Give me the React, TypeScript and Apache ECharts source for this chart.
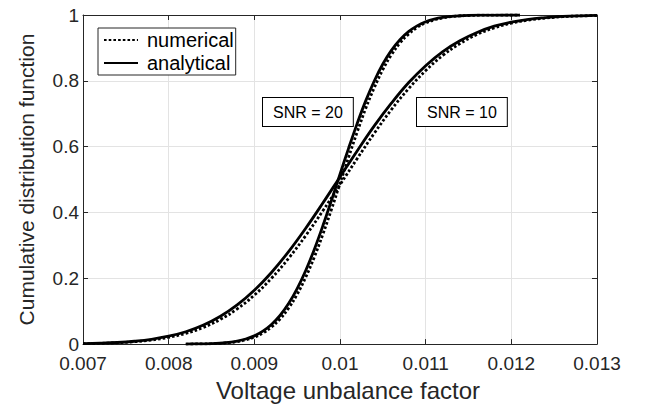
import React, { useEffect, useRef } from "react";
import * as echarts from "echarts";

// SNR = 10 curves (x in voltage unbalance factor, y in CDF)
const snr10X = [
  0.007, 0.0072, 0.0074, 0.0076, 0.0078, 0.008, 0.0082, 0.0084, 0.0086, 0.0088,
  0.009, 0.0092, 0.0094, 0.0096, 0.0098, 0.01, 0.0102, 0.0104, 0.0106, 0.0108,
  0.011, 0.0112, 0.0114, 0.0116, 0.0118, 0.012, 0.0122, 0.0124, 0.0126, 0.0128, 0.013,
];
const snr10Analytical = [
  0.0014, 0.0027, 0.0049, 0.0087, 0.0146, 0.0239, 0.0375, 0.0571, 0.0838, 0.119,
  0.1635, 0.2177, 0.281, 0.352, 0.4286, 0.508, 0.587, 0.663, 0.732, 0.794,
  0.846, 0.889, 0.922, 0.947, 0.966, 0.978, 0.987, 0.992, 0.9956, 0.9976, 0.9987,
];
const snr10Numerical = [
  0.0012, 0.0022, 0.0041, 0.0072, 0.0124, 0.0204, 0.0325, 0.0501, 0.0745, 0.1069,
  0.1487, 0.2, 0.2606, 0.3297, 0.405, 0.484, 0.5635, 0.6405, 0.7125, 0.776,
  0.831, 0.877, 0.913, 0.941, 0.961, 0.975, 0.9845, 0.9905, 0.9948, 0.9971, 0.9984,
];

// SNR = 20 curves
const snr20X = [
  0.0082, 0.0083, 0.0084, 0.0085, 0.0086, 0.0087, 0.0088, 0.0089, 0.009, 0.0091,
  0.0092, 0.0093, 0.0094, 0.0095, 0.0096, 0.0097, 0.0098, 0.0099, 0.01, 0.0101,
  0.0102, 0.0103, 0.0104, 0.0105, 0.0106, 0.0107, 0.0108, 0.0109, 0.011, 0.0111,
  0.0112, 0.0113, 0.0114, 0.0115, 0.0116, 0.0118, 0.0121,
];
const snr20Analytical = [
  0.0002, 0.0004, 0.0008, 0.0015, 0.0029, 0.0052, 0.0091, 0.0154, 0.025, 0.0392,
  0.0594, 0.0869, 0.123, 0.1685, 0.2236, 0.2877, 0.3594, 0.4364, 0.516, 0.5948,
  0.67, 0.739, 0.7995, 0.851, 0.8925, 0.925, 0.9495, 0.967, 0.9793, 0.9875,
  0.9927, 0.9959, 0.9977, 0.9988, 0.9994, 0.9999, 1.0,
];
const snr20Numerical = [
  0.0001, 0.0003, 0.0006, 0.0012, 0.0023, 0.0043, 0.0075, 0.0129, 0.0212, 0.0336,
  0.0516, 0.0764, 0.1093, 0.1515, 0.2033, 0.2643, 0.3336, 0.409, 0.488, 0.5675,
  0.644, 0.716, 0.779, 0.834, 0.879, 0.915, 0.942, 0.962, 0.976, 0.985,
  0.991, 0.995, 0.9972, 0.9985, 0.9992, 0.9998, 1.0,
];

const xMin = 0.007;
const xMax = 0.013;
const xStep = 0.001;
const yMin = 0;
const yMax = 1;
const yStep = 0.2;

const legendNames = ["numerical", "analytical"];
const annotations = ["SNR = 20", "SNR = 10"];
const xTitle = "Voltage unbalance factor";
const yTitle = "Cumulative distribution function";

const FONT = '"Liberation Sans", Arial, Helvetica, sans-serif';
const AXIS_COLOR = "#262626";

function zip(xs: number[], ys: number[]) {
  return xs.map((x, i) => [x, ys[i]]);
}

export default function App() {
  const ref = useRef<HTMLDivElement | null>(null);

  useEffect(() => {
    if (!ref.current) return;
    const chart = echarts.init(ref.current, undefined, { renderer: "svg" });

    const solid = { color: "#000", width: 2.8, type: "solid" as const };
    const dotted = { color: "#000", width: 2.8, type: [2.6, 2.1] as any };

    const common = {
      type: "line" as const,
      showSymbol: false,
      symbol: "none",
      smooth: 0.4,
      color: "#000",
      itemStyle: { color: "#000" },
      xAxisIndex: 0,
      yAxisIndex: 0,
    };

    chart.setOption({
      animation: false,
      backgroundColor: "#fff",
      textStyle: { fontFamily: FONT },
      grid: { left: 83, right: 49, top: 15, bottom: 58, containLabel: false },
      legend: {
        left: 98,
        top: 28,
        orient: "vertical",
        data: legendNames,
        itemWidth: 34,
        itemHeight: 20,
        itemGap: 3,
        padding: [2, 2, 2, 5],
        borderColor: AXIS_COLOR,
        borderWidth: 1,
        backgroundColor: "#fff",
        selectedMode: false,
        itemStyle: { color: "rgba(0,0,0,0)", borderWidth: 0, opacity: 0 },
        textStyle: { fontSize: 20, color: "#000", fontFamily: FONT, padding: [0, 0, 0, 4] },
      },
      xAxis: [
        {
          type: "value",
          min: xMin,
          max: xMax,
          interval: xStep,
          name: xTitle,
          nameLocation: "middle",
          nameGap: 31,
          nameTextStyle: { fontSize: 24, color: AXIS_COLOR, fontFamily: FONT, padding: [0, 0, 0, 16] },
          axisLine: { show: true, lineStyle: { color: AXIS_COLOR, width: 1 } },
          axisTick: { show: true, inside: true, length: 5, lineStyle: { color: AXIS_COLOR } },
          axisLabel: {
            fontSize: 19,
            color: AXIS_COLOR,
            fontFamily: FONT,
            margin: 10,
            formatter: (v: number) => String(parseFloat(v.toFixed(4))),
          },
          splitLine: { show: true, lineStyle: { color: "#e3e3e3", width: 1 } },
        },
        {
          type: "value",
          position: "top",
          min: xMin,
          max: xMax,
          interval: xStep,
          axisLine: { show: true, onZero: false, lineStyle: { color: AXIS_COLOR, width: 1 } },
          axisTick: { show: true, inside: true, length: 5, lineStyle: { color: AXIS_COLOR } },
          axisLabel: { show: false },
          splitLine: { show: false },
        },
      ],
      yAxis: [
        {
          type: "value",
          min: yMin,
          max: yMax,
          interval: yStep,
          name: yTitle,
          nameLocation: "middle",
          nameGap: 46,
          nameTextStyle: { fontSize: 21, color: AXIS_COLOR, fontFamily: FONT },
          axisLine: { show: true, lineStyle: { color: AXIS_COLOR, width: 1 } },
          axisTick: { show: true, inside: true, length: 5, lineStyle: { color: AXIS_COLOR } },
          axisLabel: { fontSize: 19, color: AXIS_COLOR, fontFamily: FONT, margin: 4 },
          splitLine: { show: true, lineStyle: { color: "#e3e3e3", width: 1 } },
        },
        {
          type: "value",
          position: "right",
          min: yMin,
          max: yMax,
          interval: yStep,
          axisLine: { show: true, onZero: false, lineStyle: { color: AXIS_COLOR, width: 1 } },
          axisTick: { show: true, inside: true, length: 5, lineStyle: { color: AXIS_COLOR } },
          axisLabel: { show: false },
          splitLine: { show: false },
        },
      ],
      series: [
        { ...common, name: legendNames[1], data: zip(snr10X, snr10Analytical), lineStyle: solid },
        { ...common, name: legendNames[1], data: zip(snr20X, snr20Analytical), lineStyle: solid },
        { ...common, name: legendNames[0], data: zip(snr10X, snr10Numerical), lineStyle: dotted },
        { ...common, name: legendNames[0], data: zip(snr20X, snr20Numerical), lineStyle: dotted },
      ],
      graphic: [
        {
          type: "text",
          left: 262,
          top: 97,
          z: 100,
          style: {
            text: annotations[0],
            fontSize: 16,
            fontFamily: FONT,
            fill: "#000",
            backgroundColor: "#fff",
            borderColor: "#000",
            borderWidth: 1,
            padding: [6, 10, 6, 10],
          },
        },
        {
          type: "text",
          left: 416,
          top: 97,
          z: 100,
          style: {
            text: annotations[1],
            fontSize: 16,
            fontFamily: FONT,
            fill: "#000",
            backgroundColor: "#fff",
            borderColor: "#000",
            borderWidth: 1,
            padding: [6, 10, 6, 10],
          },
        },
      ],
    });

    return () => chart.dispose();
  }, []);

  return (
    <div
      ref={ref}
      style={{ position: "fixed", left: 0, top: 0, width: 646, height: 407, background: "#fff" }}
    />
  );
}
